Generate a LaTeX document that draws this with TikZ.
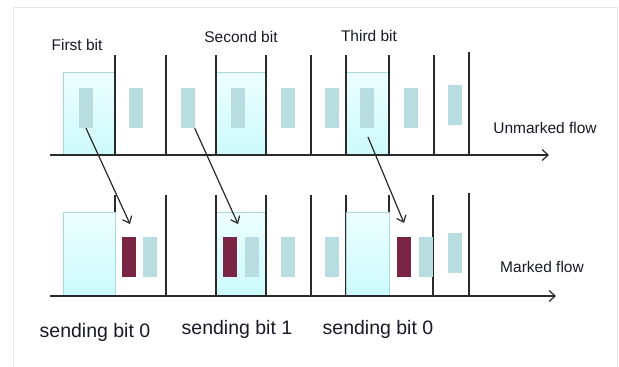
\documentclass[tikz,border=0pt]{standalone}
\usepackage{fontspec}
\setmainfont{Liberation Sans}
\usetikzlibrary{arrows.meta}
\definecolor{boxedge}{HTML}{A8DADA}
\definecolor{boxtop}{HTML}{EEFFFF}
\definecolor{boxbot}{HTML}{CCFAFC}
\definecolor{pktc}{HTML}{B8DDE0}
\definecolor{maroon}{HTML}{7B2545}
\definecolor{linec}{HTML}{2A2A2A}
\definecolor{txtc}{HTML}{1A1A26}
\definecolor{framec}{HTML}{E6E6E6}
\tikzset{
  boxn/.style={draw=boxedge, line width=0.9pt, top color=boxtop, bottom color=boxbot, inner sep=0pt},
  pkt/.style={fill=pktc, draw=none, inner sep=0pt, minimum width=14pt, minimum height=40pt},
  mk/.style={pkt, fill=maroon},
  bar/.style={line width=1.3pt, draw=linec},
  axis/.style={line width=1.3pt, draw=linec, -{Straight Barb[length=6pt,width=11pt,line width=1.2pt]}},
  arr/.style={line width=1.2pt, draw=linec, -{Straight Barb[length=6pt,width=10pt,line width=1.2pt]}},
  lab/.style={text=txtc, font=\fontsize{15.5}{17}\selectfont, inner sep=0pt},
  slab/.style={text=txtc, font=\fontsize{19.5}{22}\selectfont, inner sep=0pt}
}
\begin{document}
\begin{tikzpicture}[x=1pt,y=-1pt]
\useasboundingbox (0,0) rectangle (619,367);
\fill[white] (0,0) rectangle (619,367);
% frame
\draw[framec, line width=1pt] (13,367) -- (13,7) -- (617,7) -- (617,367);
% ---------- top row ----------
\node[boxn, minimum width=52pt, minimum height=83pt] (tb1) at (89,113.5) {};
\node[boxn, minimum width=50pt, minimum height=83pt] (tb2) at (241,113.5) {};
\node[boxn, minimum width=43pt, minimum height=83pt] (tb3) at (367.5,113.5) {};
\foreach \x in {115,166,216,266,311,346,389,434} \draw[bar] (\x,55) -- (\x,155);
\draw[bar] (469,52) -- (469,155);
\coordinate (ta0) at (50,155);
\coordinate (ta1) at (549,155);
\draw[axis] (ta0) -- (ta1);
\node[pkt] (p1) at (86,108) {};
\node[pkt] (p2) at (136,108) {};
\node[pkt] (p3) at (187.5,108) {};
\node[pkt] (p4) at (237.5,108) {};
\node[pkt] (p5) at (287.5,108) {};
\node[pkt] (p6) at (331.5,108) {};
\node[pkt] (p7) at (367,108) {};
\node[pkt] (p8) at (410.5,108) {};
\node[pkt] (p9) at (454.5,105) {};
\node[lab] (l1) at (77,45) {First bit};
\node[lab] (l2) at (241,37) {Second bit};
\node[lab] (l3) at (369,36) {Third bit};
\node[lab] (lu) at (545,128) {Unmarked flow};
% ---------- bottom row ----------
\node[boxn, minimum width=50pt, minimum height=84pt] (bb2) at (241,254) {};
\foreach \x in {115,166,216,266,311,346,389,433} \draw[bar] (\x,195) -- (\x,296);
\draw[bar] (469,193) -- (469,296);
\node[boxn, minimum width=52pt, minimum height=84pt] (bb1) at (89,254) {};
\node[boxn, minimum width=43pt, minimum height=84pt] (bb3) at (367.5,254) {};
\coordinate (ba0) at (50,296);
\coordinate (ba1) at (556,296);
\draw[axis] (ba0) -- (ba1);
\node[mk] (m1) at (129,256.5) {};
\node[pkt] (q1) at (150,256.5) {};
\node[mk] (m2) at (230,256.5) {};
\node[pkt] (q2) at (252,256.5) {};
\node[pkt] (q3) at (287.5,256.5) {};
\node[pkt] (q4) at (331.5,256.5) {};
\node[mk] (m3) at (403.5,256.5) {};
\node[pkt] (q5) at (426,256.5) {};
\node[pkt] (q6) at (454.5,253) {};
\node[lab] (lm) at (542,267) {Marked flow};
\node[slab] (s1) at (95,332) {sending bit 0};
\node[slab] (s2) at (237,329) {sending bit 1};
\node[slab] (s3) at (378,329) {sending bit 0};
% ---------- arrows ----------
\coordinate (e1) at (130,224);
\coordinate (e2) at (238,224);
\coordinate (e3) at (404,223);
\coordinate (st3) at (368,137);
\draw[arr] (p1.south) -- (e1);
\draw[arr] (p3.south east) -- (e2);
\draw[arr] (st3) -- (e3);
\end{tikzpicture}
\end{document}
